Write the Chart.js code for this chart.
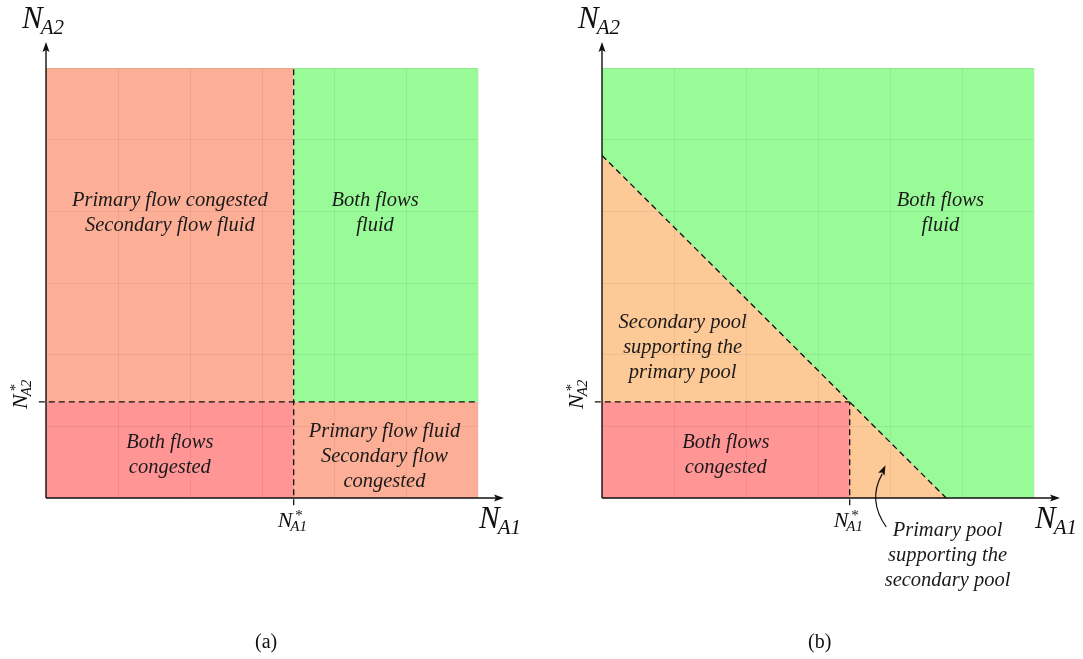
<!DOCTYPE html>
<html><head><meta charset="utf-8">
<script src="https://cdn.jsdelivr.net/npm/chart.js@4.4.1/dist/chart.umd.min.js"></script>
<style>
html,body{margin:0;padding:0;background:#fff}
body{width:1083px;height:659px;overflow:hidden;position:relative}
.p{position:absolute;top:0;height:659px}
#pa{left:0;width:540px}
#pb{left:556px;width:527px}
.cap{position:absolute;top:630px;font:20px "Liberation Serif",serif;color:#111}
</style></head><body>
<div class="p" id="pa"><canvas id="ca"></canvas></div>
<div class="p" id="pb"><canvas id="cb"></canvas></div>
<div class="cap" style="left:255px">(a)</div>
<div class="cap" style="left:808px">(b)</div>
<script>
// ---- values (axis units 0..6) ----
const axisMax = 6;
const nStarA1 = 3.44;
const nStarA2 = 1.34;
const diagonalSum = 4.78;   // N_A1 + N_A2 on the dashed boundary in (b)

// region polygons, panel (a)
const aLeftRegion   = [[0,0],[0,axisMax],[nStarA1,axisMax],[nStarA1,0]];
const aTopRight     = [[nStarA1,nStarA2],[nStarA1,axisMax],[axisMax,axisMax],[axisMax,nStarA2]];
const aBottomRight  = [[nStarA1,0],[nStarA1,nStarA2],[axisMax,nStarA2],[axisMax,0]];
const aBottomLeft   = [[0,0],[0,nStarA2],[nStarA1,nStarA2],[nStarA1,0]];
// region polygons, panel (b)
const bWhole        = [[0,0],[0,axisMax],[axisMax,axisMax],[axisMax,0]];
const bTriangle     = [[0,0],[0,diagonalSum],[diagonalSum,0]];
const bBottomLeft   = [[0,0],[0,nStarA2],[nStarA1,nStarA2],[nStarA1,0]];

// dashed boundaries
const aVertDash  = [[nStarA1,-0.1],[nStarA1,axisMax]];
const aHorizDash = [[-0.1,nStarA2],[axisMax,nStarA2]];
const bVertDash  = [[nStarA1,-0.1],[nStarA1,nStarA2]];
const bHorizDash = [[-0.1,nStarA2],[nStarA1,nStarA2]];
const bDiagDash  = [[0,diagonalSum],[diagonalSum,0]];

// region texts
const aTexts = [
  {at:[1.72,3.98], lines:["Primary flow congested","Secondary flow fluid"]},
  {at:[4.57,3.98], lines:["Both flows","fluid"]},
  {at:[1.72,0.6], lines:["Both flows","congested"]},
  {at:[4.7,0.58], lines:["Primary flow fluid","Secondary flow","congested"]}
];
const bTexts = [
  {at:[4.7,3.98], lines:["Both flows","fluid"]},
  {at:[1.12,2.1], lines:["Secondary pool","supporting the","primary pool"]},
  {at:[1.72,0.6], lines:["Both flows","congested"]}
];

const SALMON = '#FCAF96', RED = '#FF9595', GREEN = '#99FB98', PEACH = '#FDC997';
const SERIF = '"Liberation Serif", "DejaVu Serif", serif';

function poly(pts, color, order){
  return {data: pts.concat([pts[0]]).map(p=>({x:p[0],y:p[1]})), showLine:true, fill:'shape',
    backgroundColor:color, borderWidth:0, pointRadius:0, tension:0, order:order, clip:false};
}
function dash(pts){
  return {data: pts.map(p=>({x:p[0],y:p[1]})), showLine:true, fill:false, borderColor:'#111',
    borderWidth:1.3, borderDash:[6,4], pointRadius:0, order:0, clip:false};
}

function mathLabel(ctx, x, y, size, sup, sub){
  ctx.save();
  ctx.fillStyle = '#111';
  ctx.textBaseline = 'alphabetic';
  ctx.textAlign = 'left';
  ctx.font = 'italic ' + size + 'px ' + SERIF;
  ctx.fillText('N', x, y);
  const w = ctx.measureText('N').width;
  const s = Math.round(size*0.68);
  if (sup) { ctx.font = s + 'px ' + SERIF; ctx.fillText('*', x + w + 3, y - size*0.33); }
  ctx.font = 'italic ' + s + 'px ' + SERIF;
  ctx.fillText(sub, x + w - 2, y + size*0.2);
  ctx.restore();
}

function decorPlugin(texts, extra){
  return {
    id:'decor',
    afterDraw(chart){
      const ctx = chart.ctx, xs = chart.scales.x, ys = chart.scales.y, a = chart.chartArea;
      const x0 = xs.getPixelForValue(0), y0 = ys.getPixelForValue(0);
      ctx.save();
      // axes
      ctx.strokeStyle = '#111'; ctx.fillStyle = '#111'; ctx.lineWidth = 1.4;
      ctx.beginPath(); ctx.moveTo(x0, y0); ctx.lineTo(a.right + 20, y0); ctx.stroke();
      ctx.beginPath(); ctx.moveTo(x0, y0); ctx.lineTo(x0, a.top - 20); ctx.stroke();
      ctx.beginPath(); ctx.moveTo(a.right + 26, y0); ctx.lineTo(a.right + 16, y0 - 3.5); ctx.lineTo(a.right + 18, y0); ctx.lineTo(a.right + 16, y0 + 3.5); ctx.closePath(); ctx.fill();
      ctx.beginPath(); ctx.moveTo(x0, a.top - 26); ctx.lineTo(x0 - 3.5, a.top - 16); ctx.lineTo(x0, a.top - 18); ctx.lineTo(x0 + 3.5, a.top - 16); ctx.closePath(); ctx.fill();
      ctx.restore();
      // axis names
      mathLabel(ctx, x0 - 24, a.top - 40, 31, false, 'A2');
      mathLabel(ctx, a.right + 1, y0 + 30, 31, false, 'A1');
      // starred tick labels
      const xs1 = xs.getPixelForValue(nStarA1), ys2 = ys.getPixelForValue(nStarA2);
      mathLabel(ctx, xs1 - 16, y0 + 29, 22, true, 'A1');
      ctx.save();
      ctx.translate(x0 - 19, ys2 + 7);
      ctx.rotate(-Math.PI/2);
      mathLabel(ctx, 0, 0, 22, true, 'A2');
      ctx.restore();
      // region texts
      ctx.save();
      ctx.fillStyle = '#1a1a1a';
      ctx.font = 'italic 20.5px ' + SERIF;
      ctx.textAlign = 'center'; ctx.textBaseline = 'middle';
      texts.forEach(t=>{
        const cx = xs.getPixelForValue(t.at[0]), cy = ys.getPixelForValue(t.at[1]);
        const n = t.lines.length, lh = 25;
        t.lines.forEach((l,i)=>ctx.fillText(l, cx, cy + (i - (n-1)/2)*lh));
      });
      ctx.restore();
      if (extra) extra(chart);
    }
  };
}

function scales(){
  const common = {type:'linear', min:0, max:axisMax, z:1,
    ticks:{display:false, stepSize:1}, border:{display:false},
    grid:{color:'rgba(0,0,0,0.055)', lineWidth:1, drawTicks:false, z:1}};
  return {x:Object.assign({}, common), y:Object.assign({}, common)};
}

function makeChart(id, datasets, pad, plugin){
  return new Chart(document.getElementById(id), {
    type:'scatter',
    data:{datasets},
    options:{responsive:true, maintainAspectRatio:false, animation:false,
      layout:{padding:pad},
      plugins:{legend:{display:false}, tooltip:{enabled:false}},
      scales:scales()},
    plugins:[plugin]
  });
}

makeChart('ca', [
  poly(aLeftRegion, SALMON, 10),
  poly(aTopRight, GREEN, 9),
  poly(aBottomRight, SALMON, 9),
  poly(aBottomLeft, RED, 8),
  dash(aVertDash), dash(aHorizDash)
], {left:46, top:68, right:62, bottom:161}, decorPlugin(aTexts));

makeChart('cb', [
  poly(bWhole, GREEN, 10),
  poly(bTriangle, PEACH, 9),
  poly(bBottomLeft, RED, 8),
  dash(bVertDash), dash(bHorizDash), dash(bDiagDash)
], {left:46, top:68, right:49, bottom:161}, decorPlugin(bTexts, function(chart){
  const ctx = chart.ctx, xs = chart.scales.x, ys = chart.scales.y;
  const lx = xs.getPixelForValue(4.8), ly = ys.getPixelForValue(0);
  ctx.save();
  ctx.fillStyle = '#1a1a1a';
  ctx.font = 'italic 20.5px ' + SERIF;
  ctx.textAlign = 'center'; ctx.textBaseline = 'middle';
  ['Primary pool','supporting the','secondary pool'].forEach((l,i)=>ctx.fillText(l, lx, ly + 33 + i*25));
  // curved arrow
  const tx = xs.getPixelForValue(3.92), ty = ys.getPixelForValue(0.42);
  ctx.strokeStyle = '#111'; ctx.lineWidth = 1.2;
  ctx.beginPath(); ctx.moveTo(tx + 2, ly + 29); ctx.quadraticCurveTo(tx - 17, ly + 2, tx - 2, ty + 6); ctx.stroke();
  ctx.fillStyle = '#111';
  ctx.save(); ctx.translate(tx, ty); ctx.rotate(Math.atan2(-1, 0.45));
  ctx.beginPath(); ctx.moveTo(3, 0); ctx.lineTo(-7, -3.5); ctx.lineTo(-5, 0); ctx.lineTo(-7, 3.5); ctx.closePath(); ctx.fill();
  ctx.restore();
  ctx.restore();
}));
</script>
</body></html>
